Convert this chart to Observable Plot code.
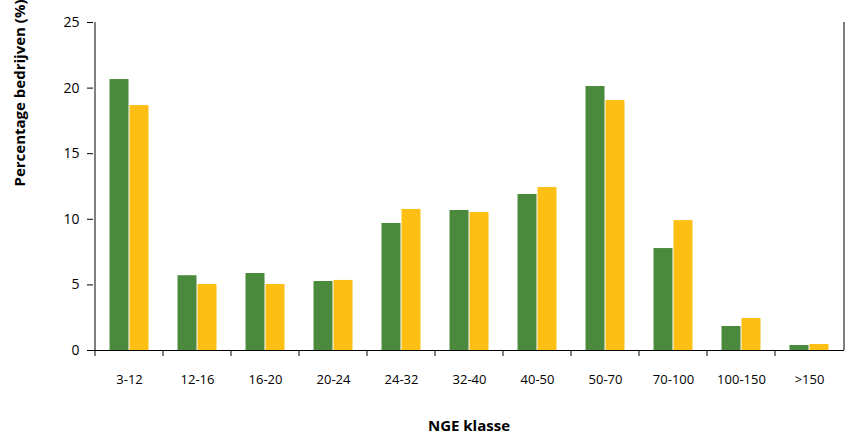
<!DOCTYPE html>
<html><head><meta charset="utf-8">
<script src="https://cdn.jsdelivr.net/npm/d3@7"></script>
<script src="https://cdn.jsdelivr.net/npm/@observablehq/plot@0.6"></script>
<style>body{margin:0;background:#fff}</style>
</head><body><div id="chart"></div>
<script>
// NGE classes and shares per series
const klassen = ["3-12","12-16","16-20","20-24","24-32","32-40","40-50","50-70","70-100","100-150",">150"];
const groen = [20.65, 5.7, 5.87, 5.26, 9.68, 10.67, 11.89, 20.12, 7.77, 1.83, 0.38];
const geel = [18.67, 5.03, 5.03, 5.34, 10.75, 10.52, 12.42, 19.05, 9.9, 2.44, 0.46];
const yTicks = [0, 5, 10, 15, 20, 25];

const half = 34.5;
const chart = Plot.plot({
  width: 848, height: 441,
  marginLeft: 93, marginRight: 4, marginTop: 22, marginBottom: 91,
  style: {fontFamily: "Open Sans", fontSize: "13px", color: "#000"},
  x: {type: "band", domain: klassen, padding: 0},
  y: {domain: [0, 25]},
  marks: [
    Plot.barY(klassen, {x: d => d, y: (d, i) => groen[i], fill: "#4a8a3c", insetLeft: 14.5, insetRight: 34.5}),
    Plot.barY(klassen, {x: d => d, y: (d, i) => geel[i], fill: "#fdbf14", insetLeft: 34.5, insetRight: 14.5}),
    Plot.ruleY([0], {stroke: "#000"}),
    Plot.ruleX([klassen[0]], {y1: 0, y2: 25, dx: -half, stroke: "#000"}),
    Plot.axisY(yTicks, {tickSize: 6, tickPadding: 8, fontSize: 14, label: null}),
    Plot.axisX({tickSize: 0, tickPadding: 24, label: null, fontSize: 13}),
    Plot.axisX({tickSize: 6, dx: -half, tickFormat: () => "", label: null}),
    Plot.tickX([klassen[klassen.length - 1]], {y1: 0, dx: half}),
    Plot.text(["NGE klasse"], {frameAnchor: "bottom", dy: 92 - 12, fontWeight: "bold", fontSize: 15}),
    Plot.text(["Percentage bedrijven (%)"], {frameAnchor: "left", dx: -73, rotate: -90, fontWeight: "bold", fontSize: 15})
  ]
});
document.getElementById("chart").append(chart);
</script></body></html>
